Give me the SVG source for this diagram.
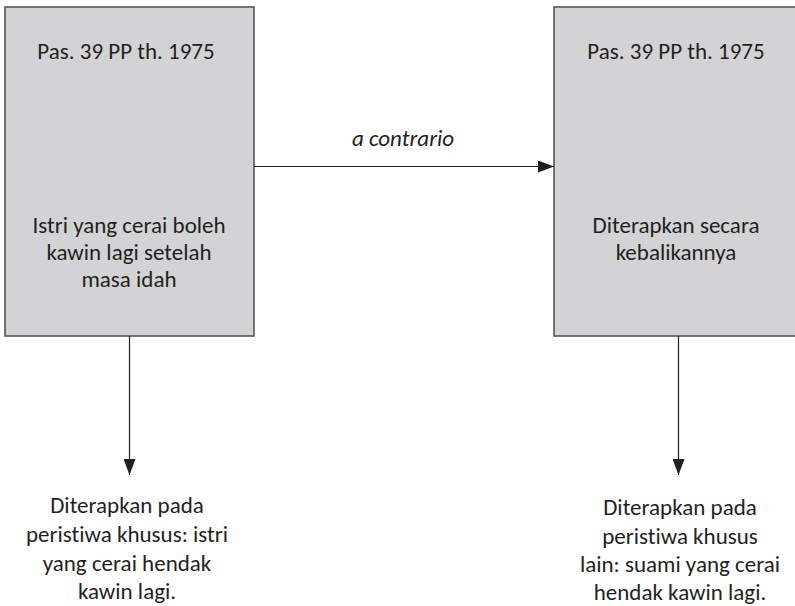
<svg xmlns="http://www.w3.org/2000/svg" width="795" height="606" viewBox="0 0 795 606">
  <style>
    .box { fill: #d3d3d5; stroke: #555555; stroke-width: 1.6; }
    .t { font-family: Carlito, Calibri, Lato, "Noto Sans", sans-serif; font-size: 23px; fill: #231f20; text-anchor: middle; font-variant-ligatures: none; }
    .it { font-style: italic; }
    .edge { stroke: #231f20; stroke-width: 1.2; fill: none; }
  </style>
  <defs>
    <marker id="arrow" viewBox="0 0 16 12" refX="16" refY="6" markerWidth="16" markerHeight="12" markerUnits="userSpaceOnUse" orient="auto">
      <path d="M0,0 L16,6 L0,12 Z" fill="#231f20"/>
    </marker>
  </defs>
  <rect width="795" height="606" fill="#ffffff"/>

  <g id="node-source">
    <rect class="box" x="5" y="7" width="249" height="329"/>
    <text class="t" x="126" y="59">Pas. 39 PP th. 1975</text>
    <text class="t" x="129" y="233">Istri yang cerai boleh</text>
    <text class="t" x="129" y="260">kawin lagi setelah</text>
    <text class="t" x="129" y="287">masa idah</text>
  </g>

  <g id="node-contrary">
    <rect class="box" x="554" y="7" width="260" height="329"/>
    <text class="t" x="676" y="59">Pas. 39 PP th. 1975</text>
    <text class="t" x="676" y="233">Diterapkan secara</text>
    <text class="t" x="676" y="260">kebalikannya</text>
  </g>

  <g id="node-case-left">
    <text class="t" x="127" y="513">Diterapkan pada</text>
    <text class="t" x="127" y="542">peristiwa khusus: istri</text>
    <text class="t" x="127" y="571">yang cerai hendak</text>
    <text class="t" x="127" y="599">kawin lagi.</text>
  </g>

  <g id="node-case-right">
    <text class="t" x="680" y="515">Diterapkan pada</text>
    <text class="t" x="680" y="544">peristiwa khusus</text>
    <text class="t" x="680" y="572">lain: suami yang cerai</text>
    <text class="t" x="680" y="600">hendak kawin lagi.</text>
  </g>

  <g id="connectors">
    <line class="edge" x1="254" y1="166.5" x2="554" y2="166.5" marker-end="url(#arrow)"/>
    <text class="t it" x="403" y="146">a contrario</text>
    <line class="edge" x1="129.5" y1="336" x2="129.5" y2="475" marker-end="url(#arrow)"/>
    <line class="edge" x1="678.5" y1="336" x2="678.5" y2="475" marker-end="url(#arrow)"/>
  </g>
</svg>
